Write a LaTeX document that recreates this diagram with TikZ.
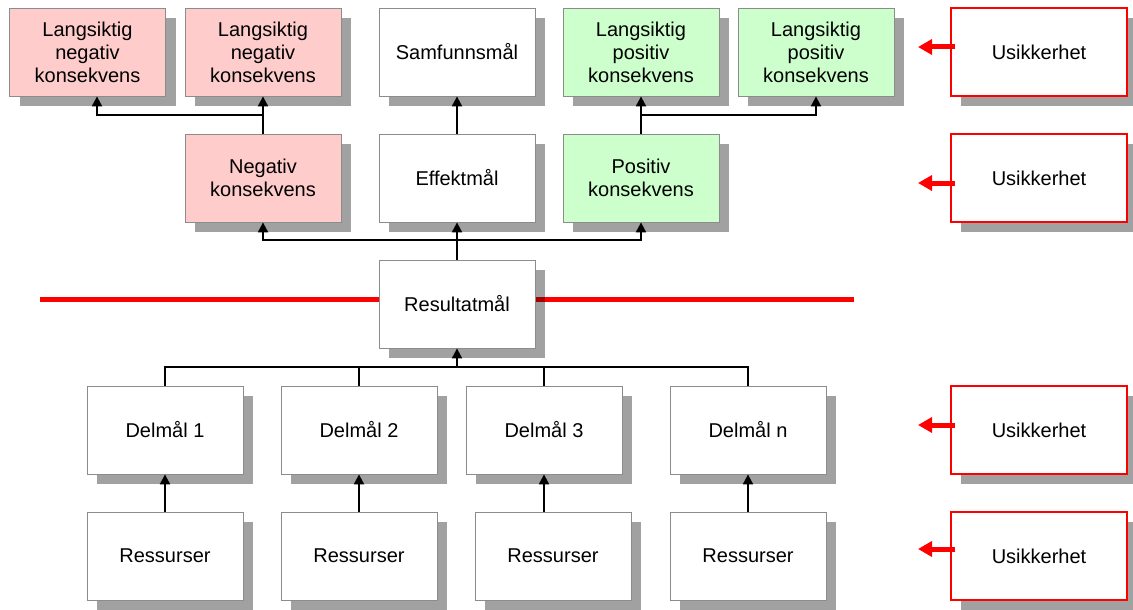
\documentclass[tikz,border=0pt]{standalone}
\usepackage{fontspec}
\setmainfont{Liberation Sans}
\usetikzlibrary{positioning,arrows.meta,shadows}
\definecolor{NegPink}{HTML}{FFCCCC}
\definecolor{PosGreen}{HTML}{CCFFCC}
\definecolor{RiskRed}{HTML}{FF0000}
\definecolor{FrameGray}{HTML}{8C8C8C}
\definecolor{LineDark}{HTML}{000000}

\begin{document}
\begin{tikzpicture}[x=1pt,y=-1pt,
    every node/.style={font=\fontsize{20}{23}\selectfont},
    goal/.style={draw=FrameGray, line width=0.8pt, fill=white,
                 minimum width=156pt, minimum height=88pt, inner sep=0pt, align=center,
                 drop shadow={shadow xshift=10pt, shadow yshift=-10pt, fill=black, opacity=0.37}},
    risk/.style={goal, draw=RiskRed, line width=1.3pt, minimum width=176pt},
    link/.style={draw=LineDark, line width=2pt, -{Triangle[width=10pt,length=10pt]}},
    plain/.style={draw=LineDark, line width=2pt},
    warn/.style={draw=RiskRed, line width=5pt, -{Triangle[width=15pt,length=14pt]}}]
  \useasboundingbox (0,0) rectangle (1133,610);

  % skillelinje
  \draw[RiskRed, line width=5pt] (40,299) -- (854,299);

  % konsekvenser og mål
  \node[goal, fill=NegPink]  (lneg1) at (87.5,52) {Langsiktig\\negativ\\konsekvens};
  \node[goal, fill=NegPink]  (lneg2) at (263,52)  {Langsiktig\\negativ\\konsekvens};
  \node[goal]                (samf)  at (457,52)  {Samfunnsmål};
  \node[goal, fill=PosGreen] (lpos1) at (641,52)  {Langsiktig\\positiv\\konsekvens};
  \node[goal, fill=PosGreen] (lpos2) at (816,52)  {Langsiktig\\positiv\\konsekvens};

  \node[goal, fill=NegPink]  (neg) at (263,178) {Negativ\\konsekvens};
  \node[goal]                (eff) at (457,178) {Effektmål};
  \node[goal, fill=PosGreen] (pos) at (641,178) {Positiv\\konsekvens};

  \node[goal] (res) at (457,304) {Resultatmål};

  \draw[link] (neg.north) -- (lneg2.south);
  \draw[link] (neg.north) -- ++(0,-19) -| ([xshift=9.5pt]lneg1.south);
  \draw[link] (eff.north) -- (samf.south);
  \draw[link] (pos.north) -- (lpos1.south);
  \draw[link] (pos.north) -- ++(0,-19) -| (lpos2.south);

  \draw[link] (res.north) -- (eff.south);
  \draw[link] (res.north) -- ++(0,-20) -| (neg.south);
  \draw[link] (res.north) -- ++(0,-20) -| (pos.south);

  % delmål og ressurser
  \foreach \i/\xd/\xr/\lab in {1/165/165/1, 2/359/359/2, 3/544/553/3, 4/748/748/n}{
    \node[goal] (d\i) at (\xd,430) {Delmål \lab};
    \node[goal] (r\i) at (\xr,556) {Ressurser};
    \draw[link] (d\i.south |- r\i.north) -- (d\i.south);
  }
  \coordinate (bus) at (457,367);
  \draw[plain] (d1.north) |- (bus) -| (d4.north);
  \draw[plain] (d2.north) -- (d2.north |- bus);
  \draw[plain] (d3.north) -- (d3.north |- bus);
  \draw[link] (bus) -- (res.south);

  % usikkerhet
  \foreach \k/\y/\ya in {1/52/47, 2/178/183, 3/430/425, 4/556/549}{
    \node[risk] (u\k) at (1039,\y) {Usikkerhet};
    \coordinate (t\k) at (918,\ya);
    \draw[warn] (u\k.west |- t\k) ++(5,0) -- (t\k);
  }
\end{tikzpicture}
\end{document}
